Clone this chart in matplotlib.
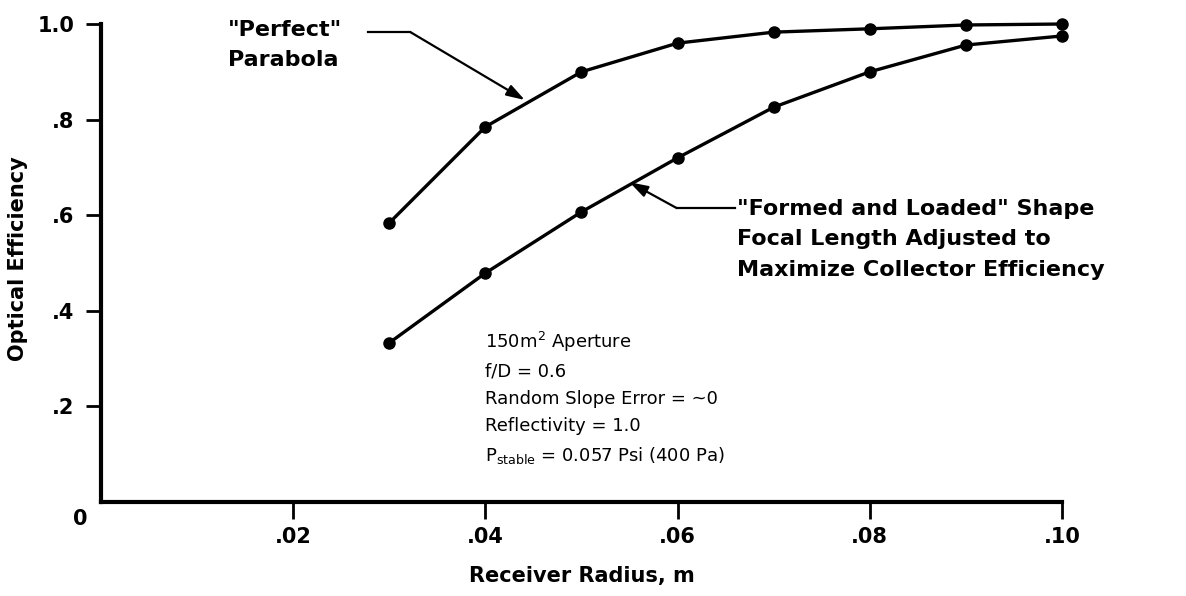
import numpy as np
import matplotlib
matplotlib.use("Agg")
import matplotlib.pyplot as plt

# receiver radius, m
radius = [0.03, 0.04, 0.05, 0.06, 0.07, 0.08, 0.09, 0.10]
# optical efficiency
perfect = [0.584, 0.785, 0.900, 0.960, 0.983, 0.990, 0.998, 1.000]
formed = [0.333, 0.479, 0.607, 0.720, 0.826, 0.900, 0.956, 0.975]

xticks = [0.02, 0.04, 0.06, 0.08, 0.10]
xticklabels = [".02", ".04", ".06", ".08", ".10"]
yticks = [0.2, 0.4, 0.6, 0.8, 1.0]
yticklabels = [".2", ".4", ".6", ".8", "1.0"]

notes = ["150m$^2$ Aperture",
         "f/D = 0.6",
         "Random Slope Error = ~0",
         "Reflectivity = 1.0",
         "P$_{\\mathrm{stable}}$ = 0.057 Psi (400 Pa)"]

plt.rcParams['font.family'] = ['DejaVu Sans']
plt.rcParams['mathtext.fontset'] = 'dejavusans'

fig = plt.figure(figsize=(11.86, 5.96), dpi=100)
ax = fig.add_axes([0.0852, 0.1577, 0.8102, 0.8020])

for ys in (perfect, formed):
    ax.plot(radius, ys, color='black', lw=2.4, marker='o', ms=8,
            markerfacecolor='black', markeredgecolor='black', clip_on=False)

ax.set_xlim(0, 0.10)
ax.set_ylim(0, 1.0)

for s in ('top', 'right'):
    ax.spines[s].set_visible(False)
for s in ('left', 'bottom'):
    ax.spines[s].set_linewidth(3)

ax.set_xticks(xticks)
ax.set_xticklabels(xticklabels, fontsize=15, fontweight='bold')
ax.set_yticks(yticks)
ax.set_yticklabels(yticklabels, fontsize=15, fontweight='bold')
ax.tick_params(axis='y', direction='out', length=11, width=2, pad=8)
ax.tick_params(axis='x', direction='out', length=12, width=2, pad=6)

ax.text(-0.0022, -0.036, "0", ha='center', va='center', fontsize=15,
        fontweight='bold')

ax.set_xlabel("Receiver Radius, m", fontsize=15, fontweight='bold', labelpad=14)
ax.set_ylabel("Optical Efficiency", fontsize=15, fontweight='bold')
ax.yaxis.set_label_coords(-0.076, 0.51)

arrow = dict(arrowstyle='-|>,head_length=1.1,head_width=0.35',
             color='black', lw=1.6, shrinkA=0, shrinkB=0)

# "Perfect" Parabola label and leader
ax.text(0.0132, 1.008, '"Perfect"\nParabola', fontsize=16, fontweight='bold',
        ha='left', va='top', linespacing=1.6)
ax.plot([0.0278, 0.0322], [0.983, 0.983], color='black', lw=1.6)
ax.annotate("", xy=(0.0441, 0.841), xytext=(0.0322, 0.983), arrowprops=arrow)

# "Formed and Loaded" label and leader
ax.plot([0.0599, 0.0660], [0.615, 0.615], color='black', lw=1.6)
ax.annotate("", xy=(0.0550, 0.669), xytext=(0.0599, 0.615), arrowprops=arrow)
ax.text(0.0662, 0.634, '"Formed and Loaded" Shape\nFocal Length Adjusted to\nMaximize Collector Efficiency',
        fontsize=16, fontweight='bold', ha='left', va='top', linespacing=1.65,
        clip_on=False)

ax.text(0.0400, 0.36, "\n".join(notes), fontsize=13, ha='left', va='top',
        linespacing=1.64)

fig.savefig("out.png", dpi=100)
